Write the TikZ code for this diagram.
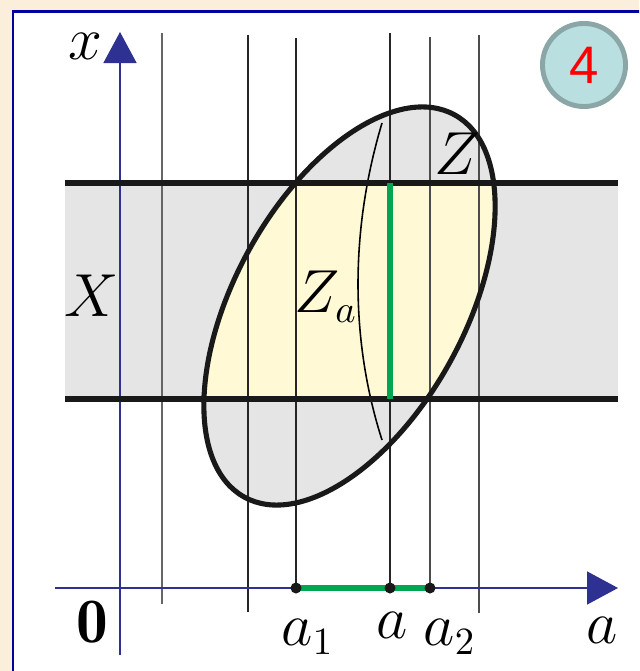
\documentclass[tikz,border=0pt]{standalone}
\usepackage{fontspec}
\newfontfamily\badgefont{Liberation Sans}
\usetikzlibrary{arrows.meta}

\definecolor{bgbeige}{RGB}{251,238,219}
\definecolor{frameblue}{RGB}{0,0,160}
\definecolor{axisblue}{RGB}{46,49,146}
\definecolor{bandgray}{RGB}{229,229,229}
\definecolor{meetyellow}{RGB}{255,249,214}
\definecolor{projgreen}{RGB}{0,166,81}
\definecolor{badgefill}{RGB}{185,223,224}
\definecolor{badgerim}{RGB}{138,166,166}

\tikzset{
  vline/.style={line width=0.6pt, black!85},
  bandline/.style={line width=1.45pt, black!90},
  axisline/.style={line width=0.45pt, axisblue, -{Triangle[length=0.31cm,width=0.33cm]}},
  projline/.style={line width=1.45pt, projgreen},
  dotnode/.style={circle, fill=black!90, inner sep=0pt, minimum size=0.11cm},
  lbl/.style={font=\fontsize{16}{19}\selectfont, inner sep=0pt},
  zset/.style={rotate around={61.2:(zc)}}
}

\begin{document}
\begin{tikzpicture}[x=0.01cm, y=-0.01cm]
  \useasboundingbox (0,0) rectangle (639,671);
  \clip (0,0) rectangle (639,671);
  \fill[bgbeige] (0,0) rectangle (639,671);
  \draw[frameblue, fill=white, line width=0.85pt] (13,11.5) rectangle (720,720);

  % band X and the set Z
  \coordinate (bandTL) at (65,183);
  \coordinate (bandTR) at (618,183);
  \coordinate (bandBL) at (65,399);
  \coordinate (bandBR) at (618,399);
  \coordinate (zc) at (349.5,306);
  \fill[bandgray] (bandTL) rectangle (bandBR);
  \fill[bandgray, zset] (zc) ellipse [x radius=2.18cm, y radius=1.15cm];
  \begin{scope}
    \clip (bandTL) rectangle (bandBR);
    \fill[meetyellow, zset] (zc) ellipse [x radius=2.18cm, y radius=1.15cm];
  \end{scope}

  % vertical lines
  \coordinate (v1t) at (162,33);
  \coordinate (v1b) at (162,604);
  \coordinate (v2t) at (248,35);
  \coordinate (v2b) at (248,612);
  \coordinate (v3t) at (296,38);
  \coordinate (a1) at (296,588);
  \coordinate (v4t) at (390,33);
  \coordinate (am) at (390,588);
  \coordinate (v5t) at (430,37);
  \coordinate (a2) at (430,588);
  \coordinate (v6t) at (479,35);
  \coordinate (v6b) at (479,613);
  \draw[vline, black!60] (v1t) -- (v1b);
  \draw[vline] (v2t) -- (v2b);
  \draw[vline] (v3t) -- (a1);
  \draw[vline] (v4t) -- (am);
  \draw[vline, black!70] (v5t) -- (a2);
  \draw[vline, black!70] (v6t) -- (v6b);

  % the curve Z_a
  \coordinate (zat) at (382,123);
  \coordinate (zab) at (382,440);
  \draw[line width=0.45pt] (zat) .. controls (350,230) and (350,340) .. (zab);

  % axes
  \coordinate (xfoot) at (120,655);
  \coordinate (xtip) at (120,32);
  \coordinate (afoot) at (55,588);
  \coordinate (atip) at (618,588);
  \draw[axisline] (xfoot) -- (xtip);
  \draw[axisline] (afoot) -- (atip);

  \draw[bandline] (bandTL) -- (bandTR);
  \draw[bandline] (bandBL) -- (bandBR);
  \draw[line width=1.45pt, black!90, zset] (zc) ellipse [x radius=2.18cm, y radius=1.15cm];

  % projections
  \coordinate (gt) at (390,183);
  \coordinate (gb) at (390,399);
  \draw[projline] (gt) -- (gb);
  \draw[projline] (a1) -- (a2);
  \node[dotnode] (da1) at (a1) {};
  \node[dotnode] (dam) at (am) {};
  \node[dotnode] (da2) at (a2) {};
  \node[dotnode, minimum size=0.08cm] (dleft) at (203,399) {};

  % labels
  \node[lbl, anchor=base west] (xlab) at (68,60) {$x$};
  \node[lbl, anchor=base west, font=\fontsize{18}{21}\selectfont] (zero) at (76,642) {$\mathbf{0}$};
  \node[lbl, anchor=base west] (Xlab) at (64,317) {$X$};
  \node[lbl, anchor=base west] (Zlab) at (434,175) {$Z$};
  \node[lbl, anchor=base west] (Zalab) at (294,313) {$Z_a$};
  \node[lbl, anchor=base west] (a1lab) at (281,645) {$a_1$};
  \node[lbl, anchor=base west] (alab) at (376,638) {$a$};
  \node[lbl, anchor=base west] (a2lab) at (423,645) {$a_2$};
  \node[lbl, anchor=base west] (aaxis) at (586,643) {$a$};

  % badge
  \node[circle, draw=badgerim, fill=badgefill, line width=1.4pt, minimum size=0.83cm,
        inner sep=0pt, text=red, font=\badgefont\fontsize{15}{17}\selectfont] (badge) at (584,65) {4};
\end{tikzpicture}
\end{document}
